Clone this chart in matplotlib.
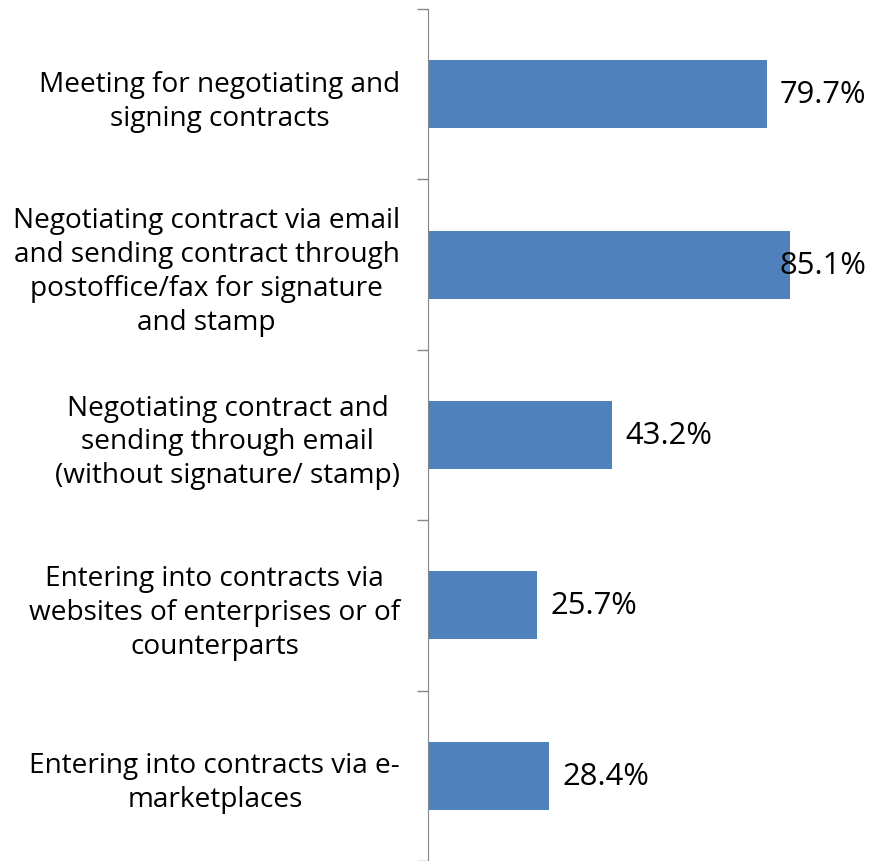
import numpy as np
import matplotlib
matplotlib.use("Agg")
import matplotlib.pyplot as plt

categories = [
    "Meeting for negotiating and\nsigning contracts",
    "Negotiating contract via email\nand sending contract through\npostoffice/fax for signature\nand stamp",
    "Negotiating contract and\nsending through email\n(without signature/ stamp)",
    "Entering into contracts via\nwebsites of enterprises or of\ncounterparts",
    "Entering into contracts via e-\nmarketplaces",
]
values = [79.7, 85.1, 43.2, 25.7, 28.4]

plt.rcParams['font.family'] = ['Open Sans', 'DejaVu Sans']

fig = plt.figure(figsize=(8.73, 8.62), dpi=100)
ax = fig.add_axes([428 / 873, 0.0, 425.3 / 873, 852 / 862])

pos = np.arange(len(categories))
ax.barh(pos, values, height=0.4, color='#4F81BD')
ax.set_ylim(len(categories) - 0.5, -0.5)
ax.set_xlim(0, 100)

for p, v in zip(pos, values):
    # label sits right of the bar, pulled back when it would run off the plot
    ax.text(min(v + 3.2, 82.6), p, f"{v:.1f}%", va='center', ha='left', fontsize=22.3)

ax.set_yticks(pos)
ax.set_yticklabels(categories, fontsize=20.2, multialignment='center', linespacing=1.28)
ax.tick_params(axis='y', which='major', length=0, pad=20)
ax.set_yticks(np.arange(-0.5, len(categories), 1), minor=True)
ax.tick_params(axis='y', which='minor', length=8, width=1, color='#868686')

ax.set_xticks([])
for s in ['top', 'right', 'bottom']:
    ax.spines[s].set_visible(False)
ax.spines['left'].set_color('#868686')

fig.savefig('out.png', dpi=100)
